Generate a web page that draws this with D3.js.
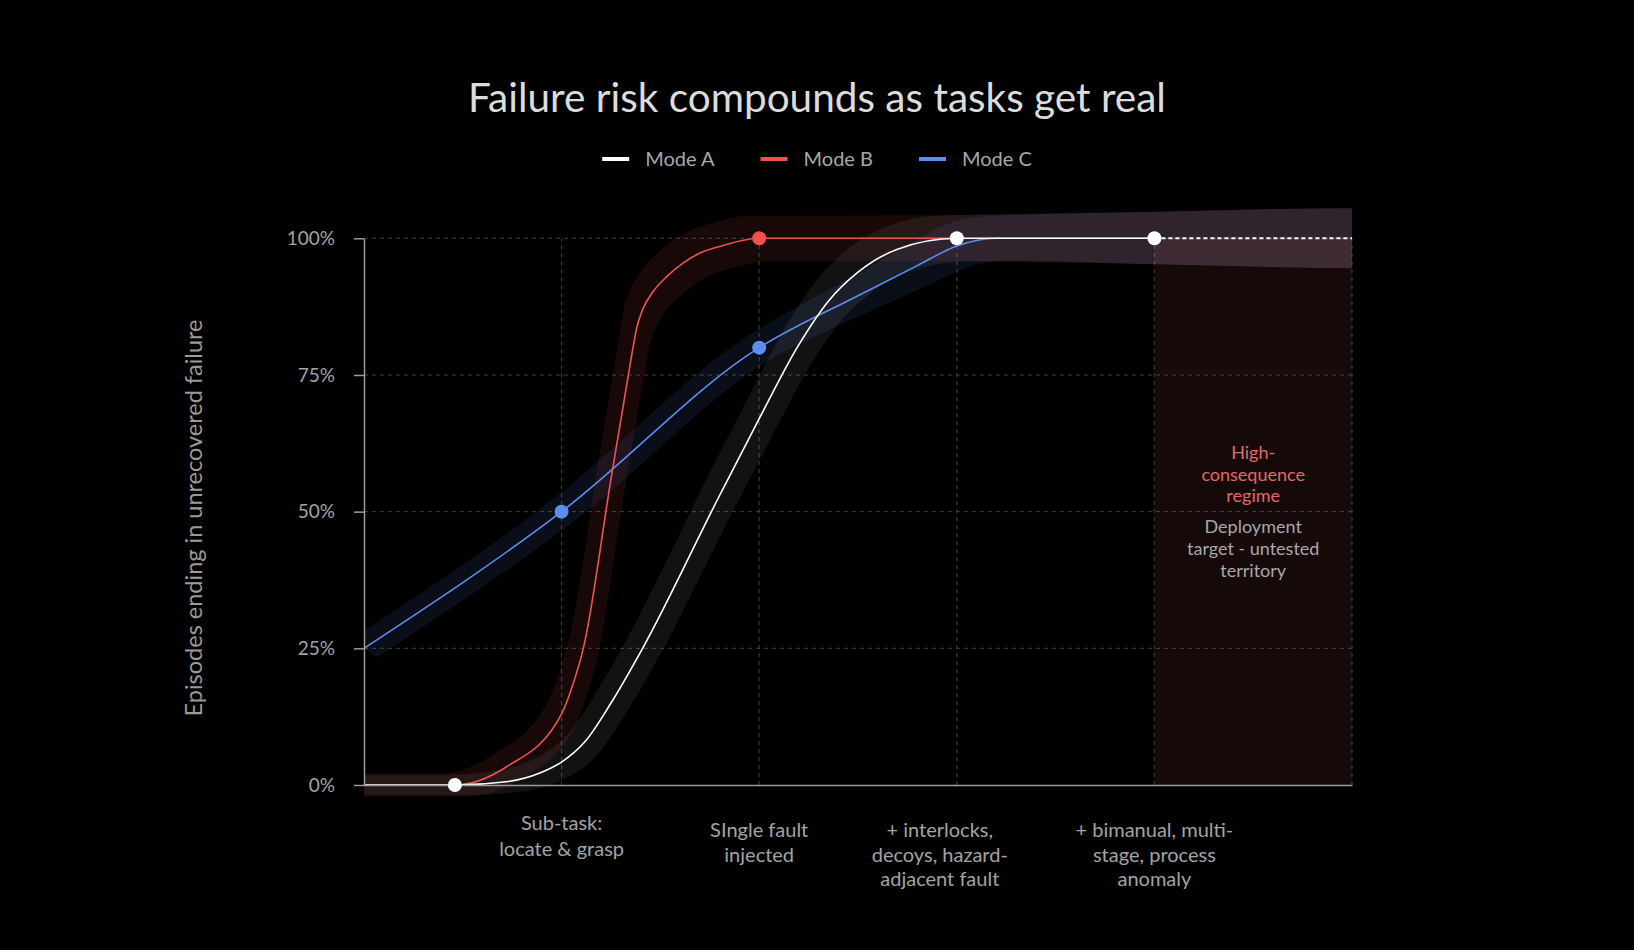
<!DOCTYPE html>
<html>
<head>
<meta charset="utf-8">
<title>Failure risk compounds as tasks get real</title>
<script src="https://d3js.org/d3.v7.min.js"></script>
<style>
  body { margin: 0; background: #000; }
  svg { display: block; font-family: Lato, "Open Sans", sans-serif; }
</style>
</head>
<body>
<svg id="chart" width="1634" height="950"></svg>
<script>
// ---- data ----
var seriesNames = ["Mode A", "Mode B", "Mode C"];
// each point: [stage position, % episodes failed, band half-width in % points]
var modeA = [[0, 0, 1.8], [0.46, 0, 1.8], [0.72, 0.6, 1.9], [0.89, 2.2, 2.0], [1.0, 4.2, 2.1],
             [1.12, 8, 2.3], [1.25, 15, 2.5], [1.41, 25, 2.7], [1.8, 53, 3.0], [2.0, 67, 3.2],
             [2.2, 80.5, 3.4], [2.35, 88.5, 3.6], [2.5, 93.8, 3.8], [2.7, 98, 4.0], [3, 100, 4.2],
             [4, 100, 4.8], [5, 100, 5.5]];
var modeB = [[0, 0, 2.1], [0.46, 0, 2.1], [0.72, 3.3, 2.3], [1.0, 13, 2.6], [1.06, 18.7, 2.7],
             [1.11, 25, 2.8], [1.25, 56, 3.0], [1.338, 75, 3.2], [1.355, 78.7, 3.3], [1.38, 83.6, 3.4],
             [1.414, 87.3, 3.5], [1.464, 90.3, 3.6], [1.532, 93, 3.7], [1.616, 95.5, 3.8],
             [1.70, 97.3, 3.9], [1.818, 98.7, 4.0], [2, 100, 4.1], [3, 100, 4.2],
             [4, 100, 4.8], [5, 100, 5.5]];
var modeC = [[0, 25, 1.7], [1, 50, 1.7], [2, 80, 2.0], [2.5, 89.5, 2.8], [2.8, 95, 3.4],
             [3.0, 98.6, 3.8], [3.2, 100, 4.0], [4, 100, 4.8], [5, 100, 5.5]];
var markersA = [[0.46, 0], [3, 100], [4, 100]];
var markersB = [[2, 100]];
var markersC = [[1, 50], [2, 80]];
var stageLabels = [
  ["Sub-task:", "locate & grasp"],
  ["SIngle fault", "injected"],
  ["+ interlocks,", "decoys, hazard-", "adjacent fault"],
  ["+ bimanual, multi-", "stage, process", "anomaly"]
];
var yTicks = [0, 25, 50, 75, 100];
var zoneLabel = ["High-", "consequence", "regime"];
var zoneNote = ["Deployment", "target - untested", "territory"];

// ---- setup ----
var svg = d3.select("#chart");
svg.append("rect").attr("width", 1634).attr("height", 950).attr("fill", "#000");

var x = d3.scaleLinear().domain([0, 5]).range([364, 1352]);
var y = d3.scaleLinear().domain([0, 100]).range([785, 238.3]);

var colors = { a: "#ffffff", b: "#ef5350", c: "#5b8ef2" };
var bandShift = 0.065;

// gridlines
svg.append("g").selectAll("line.hgrid")
  .data(yTicks.filter(function(d) { return d > 0; }))
  .enter().append("line")
  .attr("x1", x(0)).attr("x2", x(5))
  .attr("y1", function(d) { return y(d); }).attr("y2", function(d) { return y(d); })
  .attr("stroke", "#424242").attr("stroke-width", 1).attr("stroke-dasharray", "4,4");

svg.append("g").selectAll("line.vgrid")
  .data([1, 2, 3, 4, 5])
  .enter().append("line")
  .attr("x1", function(d) { return x(d); }).attr("x2", function(d) { return x(d); })
  .attr("y1", y(0)).attr("y2", y(100))
  .attr("stroke", "#424242").attr("stroke-width", 1).attr("stroke-dasharray", "4,4");

// high-consequence zone
svg.append("rect")
  .attr("x", x(4)).attr("y", y(100))
  .attr("width", x(5) - x(4)).attr("height", y(0) - y(100))
  .attr("fill", "rgba(170,70,70,0.13)");

// uncertainty bands
svg.append("clipPath").attr("id", "plotclip")
  .append("rect").attr("x", x(0)).attr("y", 0).attr("width", x(5) - x(0)).attr("height", 950);

var band = d3.area()
  .x1(function(d) { return x(d[0] - bandShift); })
  .y1(function(d) { return y(d[1] + d[2]); })
  .x0(function(d) { return x(d[0] + bandShift); })
  .y0(function(d) { return y(d[1] - d[2]); })
  .curve(d3.curveMonotoneX);

// pad flat ends so the shifted edges still reach the plot border
function padded(data) {
  var first = data[0], last = data[data.length - 1], out = data.slice();
  if (data[1][1] === first[1]) out.unshift([first[0] - bandShift * 2, first[1], first[2]]);
  out.push([last[0] + bandShift * 2, last[1], last[2]]);
  return out;
}

var bands = svg.append("g").attr("clip-path", "url(#plotclip)");
bands.append("path").attr("d", band(padded(modeC))).attr("fill", "rgba(91,142,242,0.1)");
bands.append("path").attr("d", band(padded(modeB))).attr("fill", "rgba(239,83,80,0.1)");
bands.append("path").attr("d", band(padded(modeA))).attr("fill", "rgba(255,255,255,0.07)");

// lines
var line = d3.line()
  .x(function(d) { return x(d[0]); })
  .y(function(d) { return y(d[1]); })
  .curve(d3.curveMonotoneX);

function upTo4(d) { return d[0] <= 4; }

svg.append("path").attr("d", line(modeC.filter(upTo4)))
  .attr("fill", "none").attr("stroke", colors.c).attr("stroke-width", 1.6);
svg.append("path").attr("d", line(modeB.filter(function(d) { return d[0] <= 3; })))
  .attr("fill", "none").attr("stroke", colors.b).attr("stroke-width", 1.6);
svg.append("path").attr("d", line(modeA.filter(upTo4)))
  .attr("fill", "none").attr("stroke", colors.a).attr("stroke-width", 1.6);
svg.append("path").attr("d", line(modeA.filter(function(d) { return d[0] >= 4; })))
  .attr("fill", "none").attr("stroke", colors.a).attr("stroke-width", 2)
  .attr("stroke-dasharray", "4,3");

// axes
var yAxis = svg.append("g")
  .attr("transform", "translate(" + x(0) + ",0)")
  .call(d3.axisLeft(y).tickValues(yTicks).tickFormat(function(d) { return d + "%"; })
    .tickSize(10).tickSizeOuter(0).tickPadding(19));
yAxis.select(".domain").attr("stroke", "#9a9a9a").attr("stroke-width", 1.5);
yAxis.selectAll(".tick line").attr("stroke", "#9a9a9a").attr("stroke-width", 1.5);
yAxis.selectAll(".tick text").attr("fill", "#a3a3a3").style("font-size", "19px")
  .style("font-family", "Lato, sans-serif");

var xAxis = svg.append("g")
  .attr("transform", "translate(0," + y(0) + ")")
  .call(d3.axisBottom(x).tickValues([]).tickSizeOuter(0));
xAxis.select(".domain").attr("stroke", "#9a9a9a").attr("stroke-width", 1.5);

// markers
function dots(data, color) {
  svg.append("g").selectAll("circle")
    .data(data).enter().append("circle")
    .attr("cx", function(d) { return x(d[0]); })
    .attr("cy", function(d) { return y(d[1]); })
    .attr("r", 7)
    .attr("fill", color);
}
dots(markersC, colors.c);
dots(markersB, colors.b);
dots(markersA, colors.a);

// stage labels under the x axis
stageLabels.forEach(function(lines, i) {
  var dy = i === 0 ? -7 : 0;
  var dx = i === 2 ? -17 : 0;
  var t = svg.append("text")
    .attr("text-anchor", "middle")
    .attr("fill", "#a3a3a3")
    .style("font-size", "20px");
  lines.forEach(function(s, j) {
    t.append("tspan")
      .attr("x", x(i + 1) + dx)
      .attr("y", 837 + dy + j * (i === 0 ? 26 : 24.5))
      .text(s);
  });
});

// zone annotation
var zx = (x(4) + x(5)) / 2;
zoneLabel.forEach(function(s, j) {
  svg.append("text").attr("x", zx).attr("y", 459 + j * 21.5)
    .attr("text-anchor", "middle").attr("fill", "#e26868")
    .style("font-size", "18px").text(s);
});
zoneNote.forEach(function(s, j) {
  svg.append("text").attr("x", zx).attr("y", 533 + j * 22)
    .attr("text-anchor", "middle").attr("fill", "#a8a8a8")
    .style("font-size", "18px").text(s);
});

// y axis title
svg.append("text")
  .attr("transform", "translate(202,518) rotate(-90)")
  .attr("text-anchor", "middle")
  .attr("fill", "#9a9a9a")
  .style("font-size", "23.5px")
  .text("Episodes ending in unrecovered failure");

// title
svg.append("text")
  .attr("x", 817).attr("y", 112)
  .attr("text-anchor", "middle")
  .attr("fill", "#dcdcdc")
  .style("font-size", "40.5px")
  .text("Failure risk compounds as tasks get real");

// legend
var legend = svg.append("g");
var lx = 0;
[colors.a, colors.b, colors.c].forEach(function(c, i) {
  var item = legend.append("g").attr("transform", "translate(" + lx + ",0)");
  item.append("line").attr("x1", 0).attr("x2", 27).attr("y1", 0).attr("y2", 0)
    .attr("stroke", c).attr("stroke-width", 4);
  var t = item.append("text").attr("x", 43).attr("y", 7)
    .attr("fill", "#a8a8a8").style("font-size", "20px").text(seriesNames[i]);
  lx += 43 + t.node().getComputedTextLength() + 46;
});
var lw = lx - 46;
legend.attr("transform", "translate(" + (817 - lw / 2) + ",159)");
</script>
</body>
</html>
